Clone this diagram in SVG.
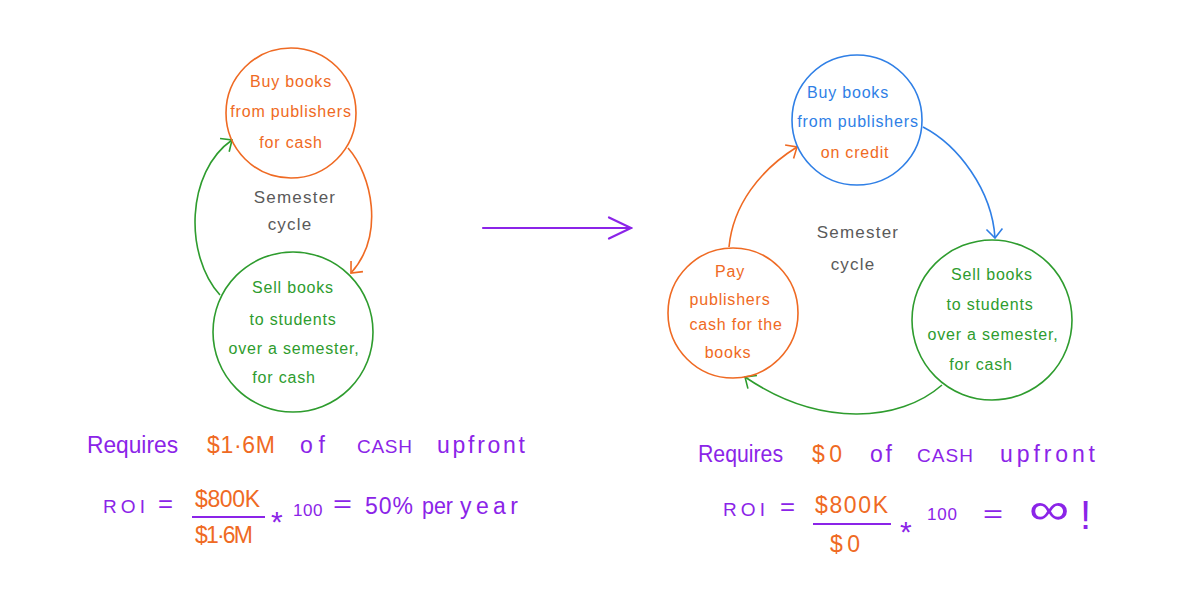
<svg xmlns="http://www.w3.org/2000/svg" width="1200" height="600" viewBox="0 0 1200 600">
<style>
.t{font-family:"Liberation Sans","DejaVu Sans",sans-serif;}
.n{font-size:16px;letter-spacing:0.8px;text-anchor:middle;}
.c{font-size:17px;letter-spacing:1.2px;text-anchor:middle;fill:#5a5a5a;}
.b{font-size:23px;}
.cap{font-size:19px;}
.or{fill:#ef6a23;}
.gr{fill:#2e9c2e;}
.bl{fill:#2f7fe6;}
.pu{fill:#8b24e8;}
.circ{fill:none;stroke-width:1.6;}
.conn{fill:none;stroke-width:1.6;}
</style>
<defs>
<marker id="mo" viewBox="-14 -12 16 24" markerWidth="16" markerHeight="24" refX="0" refY="0" orient="auto" markerUnits="userSpaceOnUse"><path d="M-9,-8 L0,0 L-9,8" fill="none" stroke="#ef6a23" stroke-width="1.6"/></marker>
<marker id="mg" viewBox="-14 -12 16 24" markerWidth="16" markerHeight="24" refX="0" refY="0" orient="auto" markerUnits="userSpaceOnUse"><path d="M-9,-8 L0,0 L-9,8" fill="none" stroke="#2e9c2e" stroke-width="1.6"/></marker>
<marker id="mb" viewBox="-14 -12 16 24" markerWidth="16" markerHeight="24" refX="0" refY="0" orient="auto" markerUnits="userSpaceOnUse"><path d="M-9,-8 L0,0 L-9,8" fill="none" stroke="#2f7fe6" stroke-width="1.6"/></marker>
<marker id="mp" viewBox="-26 -14 28 28" markerWidth="28" markerHeight="28" refX="0" refY="0" orient="auto" markerUnits="userSpaceOnUse"><path d="M-22,-10.5 L0,0 L-22,10.5" fill="none" stroke="#8b24e8" stroke-width="2.2" stroke-linecap="round"/></marker>
</defs>
<rect width="1200" height="600" fill="#ffffff"/>

<g id="connectors">
<path class="conn" stroke="#ef6a23" d="M348,148 C372,175 385,235 351,273" marker-end="url(#mo)"/>
<path class="conn" stroke="#2e9c2e" d="M220,295 C184,255 186,172 232,140" marker-end="url(#mg)"/>
<path fill="none" stroke="#8b24e8" stroke-width="2.2" stroke-linecap="round" d="M483,228 L631,228" marker-end="url(#mp)"/>
<path class="conn" stroke="#2f7fe6" d="M923,127 C958,145 992,190 995,238" marker-end="url(#mb)"/>
<path class="conn" stroke="#ef6a23" d="M729,247 C733,205 760,170 797,147" marker-end="url(#mo)"/>
<path class="conn" stroke="#2e9c2e" d="M942,385 C900,422 820,428 745,377" marker-end="url(#mg)"/>
</g>

<g id="left-buy">
<circle class="circ" cx="291" cy="113" r="65" stroke="#ef6a23"/>
<text class="t n or" x="291" y="87">Buy books</text>
<text class="t n or" x="291" y="117">from publishers</text>
<text class="t n or" x="291" y="148">for cash</text>
</g>

<g id="left-sell">
<circle class="circ" cx="293" cy="332" r="80" stroke="#2e9c2e"/>
<text class="t n gr" x="293" y="293">Sell books</text>
<text class="t n gr" x="293" y="325">to students</text>
<text class="t n gr" x="294" y="354">over a semester,</text>
<text class="t n gr" x="284" y="383">for cash</text>
</g>

<g id="left-label">
<text class="t c" x="295" y="203">Semester</text>
<text class="t c" x="290" y="230">cycle</text>
</g>

<g id="right-buy">
<circle class="circ" cx="857" cy="120" r="65" stroke="#2f7fe6"/>
<text class="t n bl" x="848" y="98">Buy books</text>
<text class="t n bl" x="858" y="127">from publishers</text>
<text class="t n or" x="855" y="158">on credit</text>
</g>

<g id="right-pay">
<circle class="circ" cx="733" cy="313" r="65" stroke="#ef6a23"/>
<text class="t n or" x="730" y="277">Pay</text>
<text class="t n or" x="730" y="305">publishers</text>
<text class="t n or" x="736" y="330">cash for the</text>
<text class="t n or" x="728" y="358">books</text>
</g>

<g id="right-sell">
<circle class="circ" cx="992" cy="320" r="80" stroke="#2e9c2e"/>
<text class="t n gr" x="992" y="280">Sell books</text>
<text class="t n gr" x="990" y="310">to students</text>
<text class="t n gr" x="993" y="340">over a semester,</text>
<text class="t n gr" x="981" y="370">for cash</text>
</g>

<g id="right-label">
<text class="t c" x="858" y="238">Semester</text>
<text class="t c" x="853" y="270">cycle</text>
</g>

<g id="left-summary">
<text class="t b pu" x="87" y="453" textLength="91" lengthAdjust="spacingAndGlyphs">Requires</text>
<text class="t b or" x="207" y="453" textLength="68" lengthAdjust="spacing">$1·6M</text>
<text class="t b pu" x="300" y="453" textLength="25" lengthAdjust="spacing">of</text>
<text class="t cap pu" x="357" y="453" textLength="55" lengthAdjust="spacing">CASH</text>
<text class="t b pu" x="437" y="453" textLength="88" lengthAdjust="spacing">upfront</text>
<text class="t cap pu" x="103" y="513" textLength="42" lengthAdjust="spacing">ROI</text>
<text class="t b pu" x="158" y="512" textLength="15" lengthAdjust="spacingAndGlyphs">=</text>
<text class="t b or" x="195" y="507" textLength="65" lengthAdjust="spacing">$800K</text>
<line x1="192" y1="517" x2="265" y2="517" stroke="#8b24e8" stroke-width="1.8"/>
<text class="t b or" x="195" y="543" textLength="58" lengthAdjust="spacing">$1·6M</text>
<text class="t pu" x="271" y="532" style="font-size:30px">*</text>
<text class="t pu" x="293" y="516" style="font-size:17px;letter-spacing:0.5px">100</text>
<text class="t b pu" x="333" y="512" textLength="19" lengthAdjust="spacingAndGlyphs">=</text>
<text class="t b pu" x="365" y="514" textLength="48" lengthAdjust="spacing">50%</text>
<text class="t b pu" x="422" y="514" textLength="31" lengthAdjust="spacingAndGlyphs">per</text>
<text class="t b pu" x="460" y="514" textLength="58" lengthAdjust="spacing">year</text>
</g>

<g id="right-summary">
<text class="t b pu" x="698" y="462" textLength="85" lengthAdjust="spacingAndGlyphs">Requires</text>
<text class="t b or" x="812" y="462" textLength="30" lengthAdjust="spacing">$0</text>
<text class="t b pu" x="870" y="462" textLength="22" lengthAdjust="spacing">of</text>
<text class="t cap pu" x="917" y="462" textLength="56" lengthAdjust="spacing">CASH</text>
<text class="t b pu" x="1000" y="462" textLength="95" lengthAdjust="spacing">upfront</text>
<text class="t cap pu" x="723" y="516" textLength="42" lengthAdjust="spacing">ROI</text>
<text class="t b pu" x="780" y="515" textLength="15" lengthAdjust="spacingAndGlyphs">=</text>
<text class="t b or" x="815" y="513" textLength="73" lengthAdjust="spacing">$800K</text>
<line x1="813" y1="524" x2="891" y2="524" stroke="#8b24e8" stroke-width="1.8"/>
<text class="t b or" x="830" y="552" textLength="30" lengthAdjust="spacing">$0</text>
<text class="t pu" x="900" y="542" style="font-size:30px">*</text>
<text class="t pu" x="927" y="520" style="font-size:17px;letter-spacing:0.8px">100</text>
<text class="t b pu" x="983" y="522" textLength="20" lengthAdjust="spacingAndGlyphs">=</text>
<text class="t pu" x="1029" y="524" style="font-size:44px" textLength="40" lengthAdjust="spacingAndGlyphs">∞</text>
<text class="t pu" x="1080" y="529" style="font-size:40px">!</text>
</g>
</svg>
